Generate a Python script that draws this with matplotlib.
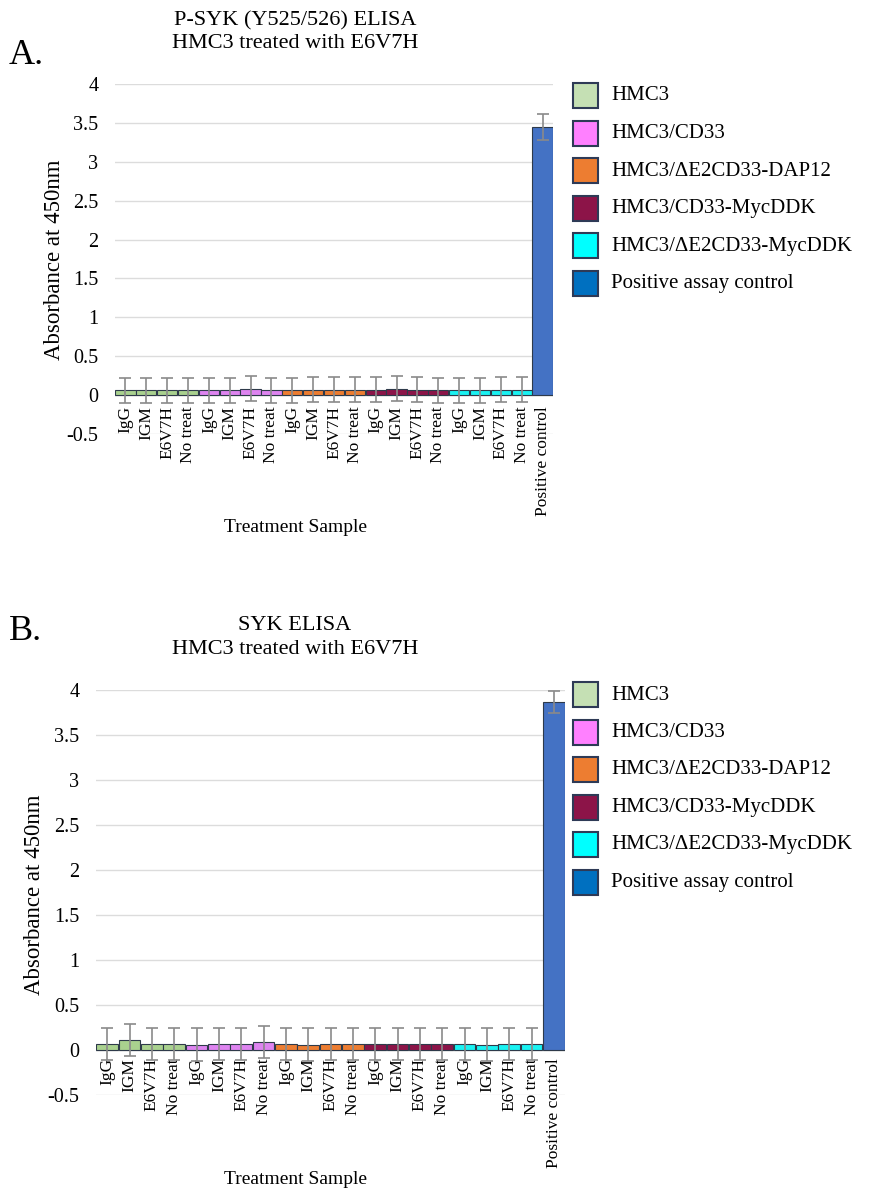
import matplotlib.pyplot as plt
from matplotlib.patches import Rectangle
import numpy as np

plt.rcParams['font.family'] = ['Liberation Serif', 'DejaVu Serif']

treatments = ["IgG", "IGM", "E6V7H", "No treat"]
cell_lines = ["HMC3", "HMC3/CD33", "HMC3/\u0394E2CD33-DAP12",
              "HMC3/CD33-MycDDK", "HMC3/\u0394E2CD33-MycDDK"]
legend_labels = cell_lines + ["Positive assay control"]
y_ticks = [-0.5, 0, 0.5, 1, 1.5, 2, 2.5, 3, 3.5, 4]
y_ticklabels = ["-0.5", "0", "0.5", "1", "1.5", "2", "2.5", "3", "3.5", "4"]

bar_colors = ["#a9d18e", "#de84f0", "#ed7d31", "#8c1448", "#19f2f2", "#4472c4"]
legend_colors = ["#c5e0b4", "#ff80ff", "#ed7d31", "#8c1448", "#00ffff", "#0070c0"]

# panel A: P-SYK (Y525/526)
psyk_vals = [0.06, 0.06, 0.06, 0.06,
             0.06, 0.06, 0.08, 0.06,
             0.06, 0.07, 0.07, 0.07,
             0.07, 0.08, 0.07, 0.06,
             0.06, 0.06, 0.07, 0.07]
psyk_err = [0.16] * 20
psyk_pos, psyk_pos_err = 3.45, 0.17

# panel B: SYK
syk_vals = [0.07, 0.11, 0.07, 0.07,
            0.06, 0.07, 0.07, 0.09,
            0.07, 0.06, 0.07, 0.07,
            0.07, 0.07, 0.07, 0.07,
            0.07, 0.06, 0.07, 0.07]
syk_err = [0.18] * 20
syk_pos, syk_pos_err = 3.87, 0.12

W, H = 869, 1192
fig = plt.figure(figsize=(W / 100, H / 100), dpi=100)


def fx(px):
    return px / W


def fy(py):
    return 1 - py / H


def panel(left, right, top, bottom, vals, errs, pos, pos_err, titles, letter,
          letter_y, title_y, ylabel_xy, xlabel_y, legend_top, label_pad):
    ax = fig.add_axes([fx(left), fy(bottom), (right - left) / W,
                       (bottom - top) / H])
    # category labels sit right under the zero line, like Excel does
    ax.spines["bottom"].set_position(("data", 0))
    labels = treatments * len(cell_lines) + ["Positive control"]
    values = list(vals) + [pos]
    errors = list(errs) + [pos_err]
    colors = [bar_colors[i // 4] for i in range(20)] + [bar_colors[5]]
    x = np.arange(len(values))
    ax.bar(x, values, width=0.97, color=colors, edgecolor="#2e3a4a",
           linewidth=0.8, zorder=2)
    ax.errorbar(x, values, yerr=errors, fmt="none", ecolor="#8a8a8a",
                elinewidth=1.2, capsize=4, capthick=1.2, zorder=3)
    ax.set_xlim(-0.5, len(values) - 0.5)
    ax.set_ylim(-0.5, 4)
    ax.set_yticks(y_ticks)
    ax.set_yticklabels(y_ticklabels, fontsize=14.5)
    ax.set_xticks(x)
    ax.set_xticklabels(labels, rotation=90, fontsize=12.5, va="top")
    ax.tick_params(axis="x", length=0, pad=label_pad)
    ax.tick_params(axis="y", length=0, pad=12)
    ax.grid(axis="y", color="#dcdcdc", linewidth=1, zorder=0)
    ax.axhline(0, color="#d0d0d0", linewidth=1, zorder=1)
    for s in ax.spines.values():
        s.set_visible(False)
    fig.text(fx(ylabel_xy[0]), fy(ylabel_xy[1]), "Absorbance at 450nm",
             fontsize=16.5, rotation=90, ha="center", va="center")
    fig.text(fx(295), fy(xlabel_y), "Treatment Sample", fontsize=14,
             ha="center", va="center")
    fig.text(fx(295), fy(title_y), titles[0], fontsize=16, ha="center",
             va="center")
    fig.text(fx(295), fy(title_y + 23), titles[1], fontsize=16, ha="center",
             va="center")
    fig.text(fx(9), fy(letter_y), letter, fontsize=26, ha="left",
             va="center")
    for i, (lab, col) in enumerate(zip(legend_labels, legend_colors)):
        cy = legend_top + i * 37.5
        fig.patches.append(Rectangle((fx(573), fy(cy + 12)), 25 / W, 25 / H,
                                     transform=fig.transFigure,
                                     facecolor=col, edgecolor="#2e3a56",
                                     linewidth=1.5))
        fig.text(fx(611), fy(cy), lab, fontsize=15, ha="left", va="center")
    return ax


panel(115, 553, 84, 434, psyk_vals, psyk_err, psyk_pos, psyk_pos_err,
      ["P-SYK (Y525/526) ELISA", "HMC3 treated with E6V7H"],
      "A.", 55, 21, (55, 260), 527, 96, 8)
panel(96, 565, 690, 1095, syk_vals, syk_err, syk_pos, syk_pos_err,
      ["SYK ELISA", "HMC3 treated with E6V7H"],
      "B.", 632, 626, (35, 895), 1180, 695, 6)

fig.savefig("out.png", dpi=100)
